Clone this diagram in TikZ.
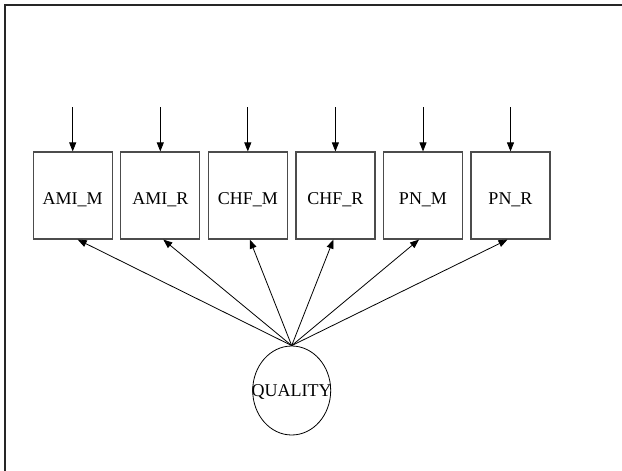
\documentclass[tikz,border=0pt]{standalone}
\usepackage{fontspec}
\setmainfont{Liberation Serif}
\usetikzlibrary{arrows.meta,shapes.geometric}
\begin{document}
\begin{tikzpicture}[x=1pt,y=-1pt,
  label text/.style={font=\fontsize{18}{20}\selectfont,inner sep=0pt},
  indicator/.style={draw=black!70,line width=1.2pt,minimum width=79pt,minimum height=87pt,inner sep=0pt},
  latent/.style={draw=black,line width=0.8pt,ellipse,minimum width=78pt,minimum height=89pt,inner sep=0pt},
  path/.style={-{Triangle[length=9pt,width=7pt]},line width=0.8pt,black}]
\useasboundingbox (0,0) rectangle (622,471);
% frame: top and left edges only
\draw[line width=1.3pt,black!85] (5,471) -- (5,5) -- (622,5);

\foreach \name/\lab/\x in {amim/AMI\_M/72.7, amir/AMI\_R/160.3, chfm/CHF\_M/247.8,
                           chfr/CHF\_R/335.4, pnm/PN\_M/423, pnr/PN\_R/510.5}{
  \node[indicator] (\name) at (\x,195.5) {};
  \node[label text] (\name-t) at (\x,200) {\lab};
  \coordinate (\name-e) at (\x,107);
  \draw[path] (\name-e) -- (\name.north);
}

% latent factor: fixed-size ellipse, label set on top of it
\node[latent] (q) at (291.7,390.5) {};
\node[label text] (q-t) at (291.7,392) {QUALITY};

\foreach \name/\dx in {amim/5, amir/3, chfm/2, chfr/-2, pnm/-4, pnr/-3}{
  \draw[path] (q.north) -- ([xshift=\dx pt]\name.south);
}
\end{tikzpicture}
\end{document}
